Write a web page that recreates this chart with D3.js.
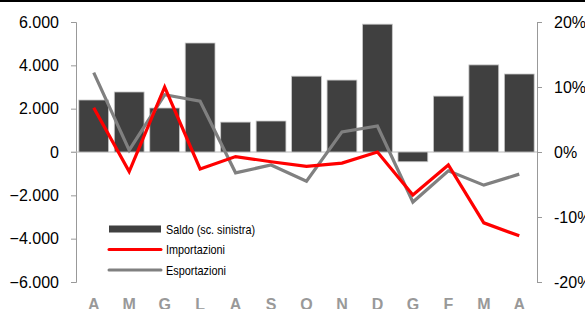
<!DOCTYPE html>
<html>
<head>
    <meta charset="utf-8">
    <style>
        body { margin: 0; background: #fff; }
        svg { display: block; font-family: Arial, 'Liberation Sans', sans-serif; }
        .legend text { font-family: 'Liberation Sans Narrow', 'Arial Narrow', Arial, sans-serif; font-size: 13px; }
    </style>
</head>
<body>
<svg width="585" height="309"></svg>

<script src="https://d3js.org/d3.v7.min.js"></script>
<script>
    // months (Apr -> Apr)
    let months = ["A", "M", "G", "L", "A", "S", "O", "N", "D", "G", "F", "M", "A"]
    // saldo, left scale
    let saldo = [2400, 2770, 2030, 5030, 1380, 1430, 3500, 3320, 5900, -450, 2580, 4020, 3600]
    // imports / exports, % right scale
    let importazioni = [6.8, -3.0, 10.0, -2.6, -0.7, -1.5, -2.2, -1.7, 0.0, -6.6, -2.0, -10.9, -12.9]
    let esportazioni = [12.2, 0.3, 8.8, 7.8, -3.2, -2.0, -4.5, 3.1, 4.0, -7.7, -2.9, -5.1, -3.4]
    let leftTicks = [-6000, -4000, -2000, 0, 2000, 4000, 6000]
    let rightTicks = [-20, -10, 0, 10, 20]

    let svg = d3.select("svg")
    let width = 585, height = 309
    let mLeft = 76, mRight = 537, mTop = 22, mBottom = 282

    let x = d3.scaleBand().domain(d3.range(months.length)).range([mLeft, mRight]).paddingInner(0.16).paddingOuter(0.08)
    let yL = d3.scaleLinear().domain([-6000, 6000]).range([mBottom, mTop])
    let yR = d3.scaleLinear().domain([-20, 20]).range([mBottom, mTop])

    let fmt = d => d3.format(",")(d).replace(/,/g, ".")

    // top rule
    svg.append("line")
        .attr("x1", 0).attr("x2", width).attr("y1", 1).attr("y2", 1)
        .style("stroke", "#000").style("stroke-width", 2)

    // left axis
    let gl = svg.append("g").attr("transform", `translate(${mLeft},0)`)
        .call(d3.axisLeft(yL).tickValues(leftTicks).tickFormat(fmt).tickSize(5).tickPadding(12))
    gl.select(".domain").style("stroke", "#999")
    gl.selectAll(".tick line").style("stroke", "#999")
    gl.selectAll("text").style("font-size", "16px").style("fill", "#000")

    // right axis
    let gr = svg.append("g").attr("transform", `translate(${mRight},0)`)
        .call(d3.axisRight(yR).tickValues(rightTicks).tickFormat(d => d + "%").tickSize(5).tickPadding(12))
    gr.select(".domain").style("stroke", "#999")
    gr.selectAll(".tick line").style("stroke", "#999")
    gr.selectAll("text").style("font-size", "16px").style("fill", "#000")

    // zero line
    svg.append("line")
        .attr("x1", mLeft - 5).attr("x2", mRight).attr("y1", yL(0)).attr("y2", yL(0))
        .style("stroke", "#bbb").style("stroke-width", 1)

    // bars
    svg.append("g")
        .selectAll("rect")
        .data(saldo)
        .join("rect")
        .attr("x", (d, i) => x(i))
        .attr("width", x.bandwidth())
        .attr("y", d => yL(Math.max(0, d)))
        .attr("height", d => Math.abs(yL(d) - yL(0)))
        .style("fill", "#404040")
        .style("stroke", "#c8c8c8")
        .style("stroke-width", 0.8)

    let line = d3.line()
        .x((d, i) => x(i) + x.bandwidth() / 2)
        .y(d => yR(d))

    svg.append("path")
        .datum(esportazioni)
        .attr("d", line)
        .style("fill", "none").style("stroke", "#808080").style("stroke-width", 3.2)

    svg.append("path")
        .datum(importazioni)
        .attr("d", line)
        .style("fill", "none").style("stroke", "#ff0000").style("stroke-width", 3.2)

    // month labels
    svg.append("g")
        .selectAll("text")
        .data(months)
        .join("text")
        .attr("x", (d, i) => x(i) + x.bandwidth() / 2)
        .attr("y", 310)
        .attr("text-anchor", "middle")
        .style("font-size", "16px")
        .style("font-weight", "bold")
        .style("fill", "#999")
        .text(d => d)

    // legend
    let legendItems = [
        { label: "Saldo (sc. sinistra)", color: "#404040", w: 7, len: 89 },
        { label: "Importazioni", color: "#ff0000", w: 3, len: 59 },
        { label: "Esportazioni", color: "#808080", w: 3, len: 60 }
    ]
    let lg = svg.append("g").attr("class", "legend")
    legendItems.forEach((it, i) => {
        let yy = 229 + i * 20.5
        lg.append("line")
            .attr("x1", 109).attr("x2", 161).attr("y1", yy).attr("y2", yy)
            .style("stroke", it.color).style("stroke-width", it.w)
            .style("stroke-linecap", i == 0 ? "butt" : "round")
        lg.append("text")
            .attr("x", 166).attr("y", yy + 4.5)
            .attr("textLength", it.len)
            .attr("lengthAdjust", "spacingAndGlyphs")
            .text(it.label)
    })
</script>
</body>
</html>
